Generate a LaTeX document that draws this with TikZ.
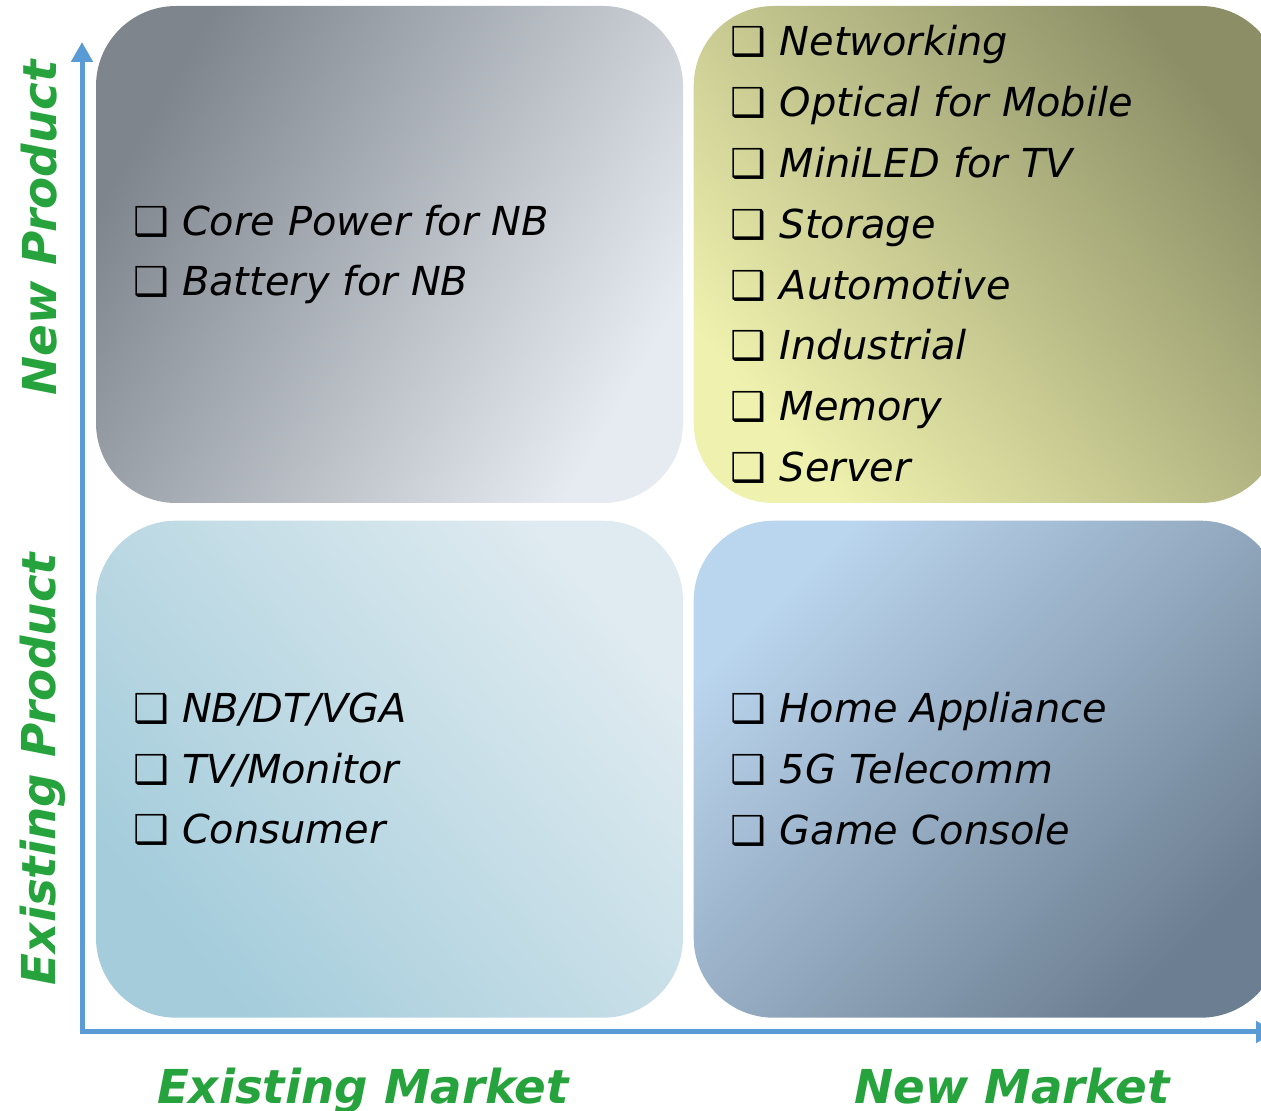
\documentclass[tikz,border=0pt]{standalone}
\usepackage{fontspec}
\setmainfont{DejaVu Sans}
\newfontfamily\boxfont{DejaVu Sans}
\usepackage{tikz}
\usetikzlibrary{arrows.meta, positioning}

\definecolor{axisblue}{HTML}{5B9BD5}
\definecolor{labelgreen}{HTML}{26A33D}
\definecolor{grayA}{HTML}{7F858D}
\definecolor{grayB}{HTML}{C3C8CD}
\definecolor{grayC}{HTML}{E6EBF1}
\definecolor{oliveA}{HTML}{8C8F66}
\definecolor{oliveB}{HTML}{C9C993}
\definecolor{oliveC}{HTML}{EFF1AE}
\definecolor{aquaA}{HTML}{DFEBF0}
\definecolor{aquaB}{HTML}{C6DFE8}
\definecolor{aquaC}{HTML}{A4CCDB}
\definecolor{slateA}{HTML}{BAD5EE}
\definecolor{slateB}{HTML}{9DB4CA}
\definecolor{slateC}{HTML}{6C7E91}

\newcommand{\chk}{{\boxfont\upshape ❑}\ }

\tikzstyle{quad} = [
  rectangle,
  rounded corners=1.6cm,
  minimum width=11.74cm,
  minimum height=9.94cm,
  text width=10.26cm,
  inner sep=0pt,
  align=left,
  font=\fontsize{22.7}{34.6}\selectfont\itshape
]
\tikzstyle{shade-gray} = [top color=grayA, middle color=grayB, bottom color=grayC, shading angle=60]
\tikzstyle{shade-olive} = [top color=oliveA, middle color=oliveB, bottom color=oliveC, shading angle=-50]
\tikzstyle{shade-aqua} = [top color=aquaA, middle color=aquaB, bottom color=aquaC, shading angle=-50]
\tikzstyle{shade-slate} = [top color=slateA, middle color=slateB, bottom color=slateC, shading angle=45]
\tikzstyle{axis} = [line width=0.1cm, draw=axisblue, <->, >={Triangle[width=0.42cm, length=0.4cm]}]
\tikzstyle{axislabel} = [
  anchor=base,
  inner sep=0pt,
  text=labelgreen,
  font=\fontsize{26.6}{30}\selectfont\bfseries\itshape
]

\begin{document}
\begin{tikzpicture}
    \useasboundingbox (0,0) rectangle (25.22,22.22);
    \clip (0,0) rectangle (25.22,22.22);

    \node (new-prod-old-mkt) [quad, shade-gray] at (7.79,17.13)
      {\chk Core Power for NB\\ \chk Battery for NB};
    \node (new-prod-new-mkt) [quad, shade-olive, right=0.2cm of new-prod-old-mkt]
      {\chk Networking\\ \chk Optical for Mobile\\ \chk MiniLED for TV\\ \chk Storage\\
       \chk Automotive\\ \chk Industrial\\ \chk Memory\\ \chk Server};
    \node (old-prod-old-mkt) [quad, shade-aqua, below=0.34cm of new-prod-old-mkt]
      {\chk NB/DT/VGA\\ \chk TV/Monitor\\ \chk Consumer};
    \node (old-prod-new-mkt) [quad, shade-slate, right=0.2cm of old-prod-old-mkt]
      {\chk Home Appliance\\ \chk 5G Telecomm\\ \chk Game Console};

    \coordinate (origin) at (1.64,1.58);
    \coordinate (y-tip) at (1.64,21.38);
    \coordinate (x-tip) at (25.52,1.58);
    \draw [axis] (y-tip) -- (origin) -- (x-tip);

    \node (new-product) [axislabel, rotate=90] at (1.14,17.66) {New Product};
    \node (existing-product) [axislabel, rotate=90] at (1.12,6.84) {Existing Product};
    \node (existing-market) [axislabel] at (7.26,0.14) {Existing Market};
    \node (new-market) [axislabel] at (20.24,0.14) {New Market};
  \end{tikzpicture}
\end{document}
